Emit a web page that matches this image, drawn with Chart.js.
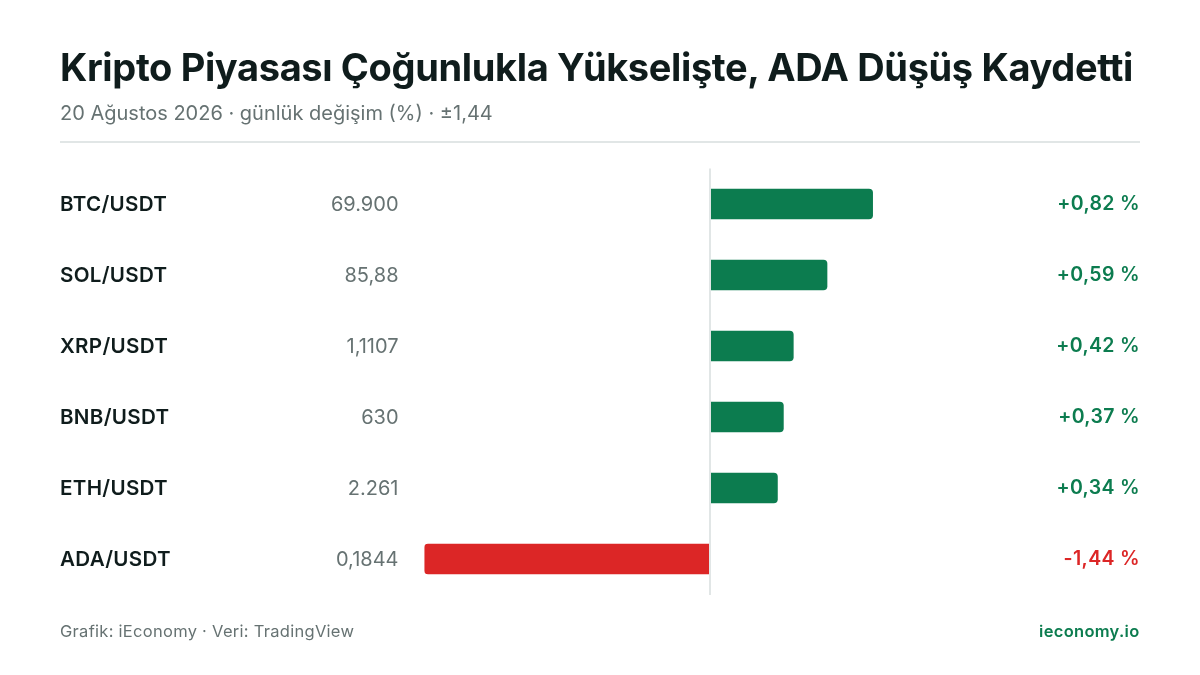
<!DOCTYPE html>
<html lang="tr">
<head>
    <meta charset="UTF-8">
    <title>Kripto Piyasası</title>
    <script src="https://cdn.jsdelivr.net/npm/chart.js"></script>
    <style>
        html, body { margin: 0; padding: 0; background: #fff; }
        body { width: 1200px; height: 675px; position: relative; overflow: hidden; font-family: Inter, sans-serif; }
        h1 { position: absolute; left: 60px; top: 43px; margin: 0; font-size: 38px; line-height: 48px; font-weight: 700; letter-spacing: -0.36px; color: #0f1c1c; white-space: nowrap; }
        #sub { position: absolute; left: 60px; top: 100px; font-size: 20px; line-height: 26px; color: #667272; white-space: nowrap; }
        #rule { position: absolute; left: 60px; top: 141px; width: 1080px; height: 2px; background: #e1e6e6; }
        #src { position: absolute; left: 60px; top: 619.5px; font-size: 16.5px; line-height: 22px; letter-spacing: 0.28px; color: #667272; }
        #site { position: absolute; right: 60.5px; top: 619.5px; font-size: 16.5px; line-height: 22px; letter-spacing: 0.3px; font-weight: 600; color: #0c7c4f; }
        #wrap { position: absolute; left: 0; top: 0; width: 1200px; height: 675px; }
        canvas { display: block; }
    </style>
</head>
<body>
    <div id="wrap"><canvas id="chart" width="1200" height="675"></canvas></div>
    <h1>Kripto Piyasası Çoğunlukla Yükselişte, ADA Düşüş Kaydetti</h1>
    <div id="sub">20 Ağustos 2026 · günlük değişim (%) · ±1,44</div>
    <div id="rule"></div>
    <div id="src">Grafik: iEconomy · Veri: TradingView</div>
    <div id="site">ieconomy.io</div>

    <script>
        const pairs = ["BTC/USDT", "SOL/USDT", "XRP/USDT", "BNB/USDT", "ETH/USDT", "ADA/USDT"];
        const prices = ["69.900", "85,88", "1,1107", "630", "2.261", "0,1844"];
        const changes = [0.82, 0.59, 0.42, 0.37, 0.34, -1.44];
        const changeLabels = ["+0,82 %", "+0,59 %", "+0,42 %", "+0,37 %", "+0,34 %", "-1,44 %"];

        const GREEN = "#0c7c4f";
        const RED = "#dc2626";

        // pair name, price and change text on each row
        const rowText = {
            id: "rowText",
            afterDraw(chart) {
                const ctx = chart.ctx;
                const y = chart.scales.y;
                ctx.save();
                ctx.textBaseline = "middle";
                pairs.forEach((p, i) => {
                    const py = y.getPixelForValue(i) + 0.5;
                    ctx.textAlign = "left";
                    ctx.letterSpacing = "0.3px";
                    ctx.font = "600 20.6px Inter";
                    ctx.fillStyle = "#0f1c1c";
                    ctx.fillText(p, 60, py);
                    ctx.textAlign = "right";
                    ctx.letterSpacing = "0px";
                    ctx.font = "400 20px Inter";
                    ctx.fillStyle = "#667272";
                    ctx.fillText(prices[i], 398.5, py);
                    ctx.letterSpacing = "0.35px";
                    ctx.font = "600 19.5px Inter";
                    ctx.fillStyle = changes[i] < 0 ? RED : GREEN;
                    ctx.fillText(changeLabels[i], 1140, py);
                });
                ctx.restore();
            }
        };

        new Chart(document.getElementById("chart"), {
            type: "bar",
            data: {
                labels: pairs,
                datasets: [{
                    data: changes,
                    backgroundColor: changes.map(v => v < 0 ? RED : GREEN),
                    barThickness: 30,
                    borderRadius: 4
                }]
            },
            options: {
                indexAxis: "y",
                responsive: false,
                animation: false,
                layout: { padding: { left: 424.4, right: 204.4, top: 168.5, bottom: 80.5 } },
                plugins: { legend: { display: false }, tooltip: { enabled: false } },
                scales: {
                    x: {
                        min: -1.44,
                        max: 1.44,
                        afterBuildTicks: axis => { axis.ticks = [{ value: 0 }]; },
                        ticks: { display: false },
                        border: { display: false },
                        grid: { z: 1, color: "#e1e6e6", lineWidth: 2, drawTicks: false }
                    },
                    y: {
                        ticks: { display: false },
                        border: { display: false },
                        grid: { display: false, drawTicks: false }
                    }
                }
            },
            plugins: [rowText]
        });
    </script>
</body>
</html>
